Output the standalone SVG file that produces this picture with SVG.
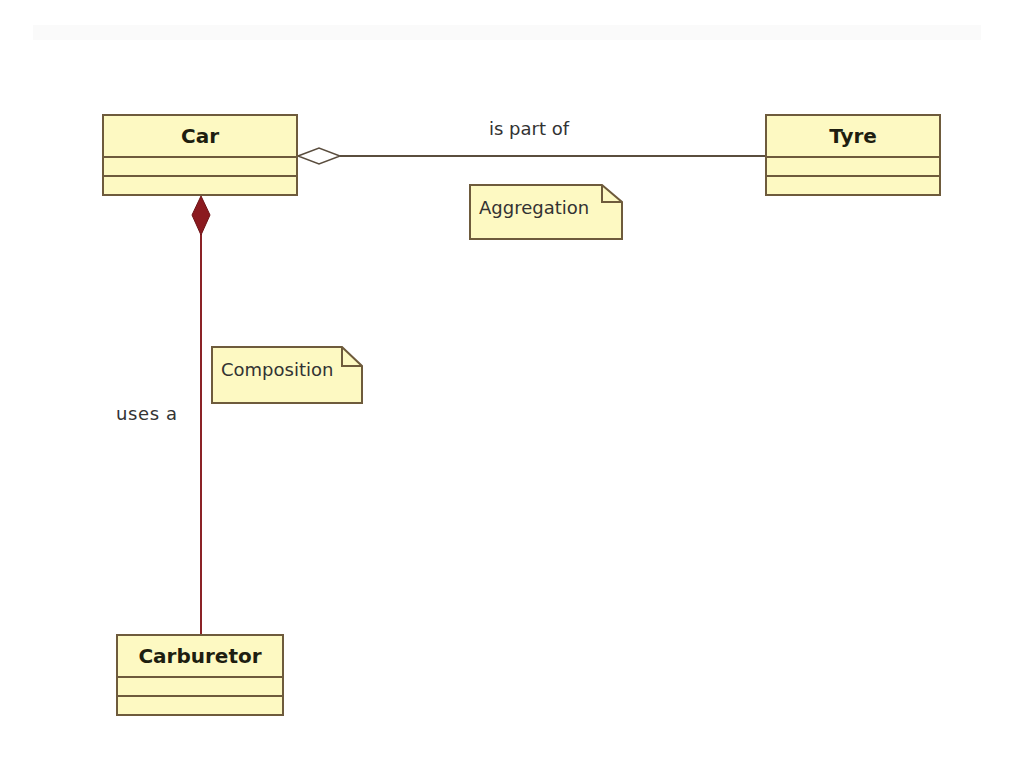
<svg xmlns="http://www.w3.org/2000/svg" width="1024" height="768" viewBox="0 0 1024 768">
<style>
.cls{fill:#fdf9c2;stroke:#6e5b3c;stroke-width:2}
.sep{stroke:#6e5b3c;stroke-width:2}
.name{font-family:"DejaVu Sans",Verdana,sans-serif;font-weight:bold;font-size:20px;fill:#1e1e10;text-anchor:middle}
.lbl{font-family:"DejaVu Sans",Verdana,sans-serif;font-size:18px;fill:#333}
.note{fill:#fdf9c2;stroke:#6e5b3c;stroke-width:2}
.fold{fill:none;stroke:#6e5b3c;stroke-width:2}
</style>
<rect width="1024" height="768" fill="#ffffff"/>
<rect x="33" y="25" width="948" height="15" fill="#fafafa"/>
<g id="connectors">
  <line x1="340" y1="156" x2="767" y2="156" stroke="#5a4d3e" stroke-width="2"/>
  <polygon points="298,156 319,148 340,156 319,164" fill="#ffffff" stroke="#5a4d3e" stroke-width="1.5"/>
  <line x1="201" y1="234" x2="201" y2="635" stroke="#8b2226" stroke-width="2"/>
  <polygon points="201,196 210,215 201,235 192,215" fill="#8b1a1f" stroke="#6d1216" stroke-width="1"/>
  <text class="lbl" x="489" y="135">is part of</text>
  <text class="lbl" x="116" y="420" textLength="61">uses a</text>
</g>
<g id="car">
  <rect class="cls" x="103" y="115" width="194" height="80"/>
  <line class="sep" x1="103" y1="157" x2="297" y2="157"/>
  <line class="sep" x1="103" y1="176" x2="297" y2="176"/>
  <text class="name" x="200" y="143">Car</text>
</g>
<g id="tyre">
  <rect class="cls" x="766" y="115" width="174" height="80"/>
  <line class="sep" x1="766" y1="157" x2="940" y2="157"/>
  <line class="sep" x1="766" y1="176" x2="940" y2="176"/>
  <text class="name" x="853" y="143">Tyre</text>
</g>
<g id="carburetor">
  <rect class="cls" x="117" y="635" width="166" height="80"/>
  <line class="sep" x1="117" y1="677" x2="283" y2="677"/>
  <line class="sep" x1="117" y1="696" x2="283" y2="696"/>
  <text class="name" x="200" y="663">Carburetor</text>
</g>
<g id="aggregation-note">
  <path class="note" d="M470,185 H602 L622,202 V239 H470 Z"/>
  <path class="fold" d="M602,185 V202 H622"/>
  <text class="lbl" x="479" y="214">Aggregation</text>
</g>
<g id="composition-note">
  <path class="note" d="M212,347 H342 L362,366 V403 H212 Z"/>
  <path class="fold" d="M342,347 V366 H362"/>
  <text class="lbl" x="221" y="376">Composition</text>
</g>
</svg>
